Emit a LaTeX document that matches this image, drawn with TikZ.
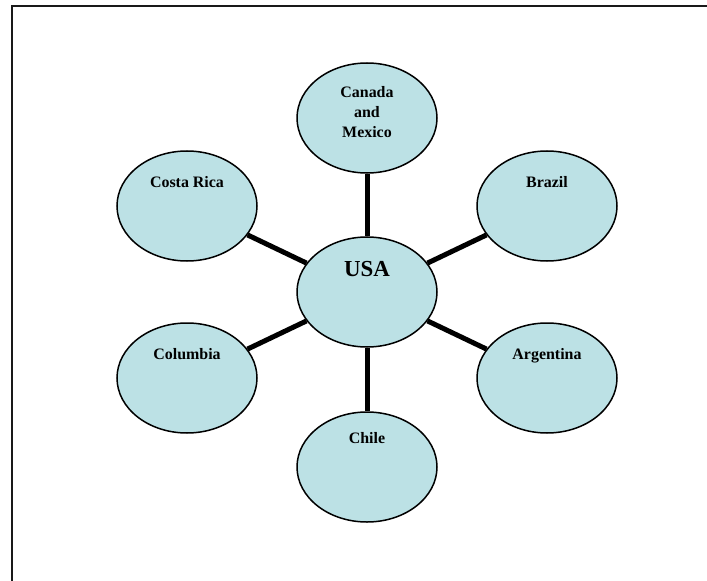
\documentclass[tikz,border=0pt]{standalone}
\usepackage{fontspec}
\setmainfont{Liberation Serif}
\usetikzlibrary{shapes.geometric}
\definecolor{bubble}{RGB}{188,225,229}
\tikzset{
  bubble/.style={ellipse, draw=black, line width=1.5bp, fill=bubble,
    minimum width=140bp, minimum height=110bp, inner sep=0pt},
  lbltext/.style={anchor=north, inner sep=0pt, align=center,
    font=\fontsize{16}{20}\selectfont\bfseries},
  biglbltext/.style={anchor=north, inner sep=0pt,
    font=\fontsize{23}{26}\selectfont\bfseries},
  link/.style={line width=5bp, black}
}
\begin{document}
\begin{tikzpicture}[x=1bp, y=-1bp]
\useasboundingbox (0,0) rectangle (707,581);
% partial frame
\coordinate (fl) at (12,581);
\coordinate (fc) at (12,6);
\coordinate (fr) at (707,6);
\draw[line width=2.2bp, black!90] (fl) -- (fc) -- (fr);

\node[bubble] (usa) at (367,292) {};
\node[bubble] (can) at (367,118) {};
\node[bubble] (cos) at (187,206) {};
\node[bubble] (bra) at (547,206) {};
\node[bubble] (col) at (187,378) {};
\node[bubble] (arg) at (547,378) {};
\node[bubble] (chi) at (367,467) {};

\draw[link] (usa) -- (can);
\draw[link] (usa) -- (cos);
\draw[link] (usa) -- (bra);
\draw[link] (usa) -- (col);
\draw[link] (usa) -- (arg);
\draw[link] (usa) -- (chi);

\node[biglbltext] (tusa) at ([yshift=31bp]usa.center) {USA};
\node[lbltext] (tcan) at ([yshift=32bp]can.center) {Canada\\and\\Mexico};
\node[lbltext] (tcos) at ([yshift=30bp]cos.center) {Costa Rica};
\node[lbltext] (tbra) at ([yshift=30bp]bra.center) {Brazil};
\node[lbltext] (tcol) at ([yshift=30bp]col.center) {Columbia};
\node[lbltext] (targ) at ([yshift=30bp]arg.center) {Argentina};
\node[lbltext] (tchi) at ([yshift=35bp]chi.center) {Chile};
\end{tikzpicture}
\end{document}
